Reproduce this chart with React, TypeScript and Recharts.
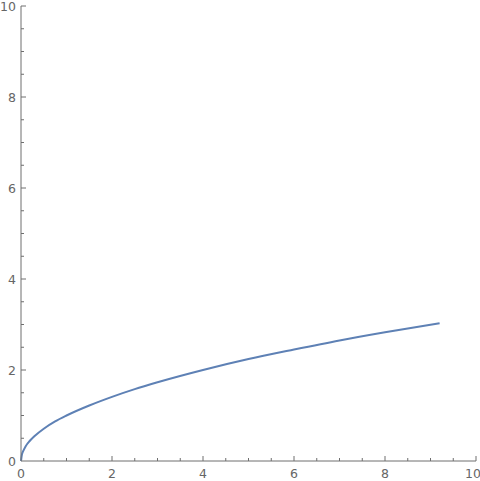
import { Line, LineChart, XAxis, YAxis } from "recharts";

// points (x, y)
const xValues = [0, 0.02, 0.05, 0.1, 0.2, 0.3, 0.5, 0.75, 1, 1.5, 2, 2.5, 3, 4, 5, 6, 7, 8, 9.2];
const yValues = [0, 0.14, 0.22, 0.32, 0.45, 0.55, 0.71, 0.87, 1, 1.22, 1.41, 1.58, 1.73, 2, 2.24, 2.45, 2.65, 2.83, 3.03];

const tickValues = [
	0, 0.5, 1, 1.5, 2, 2.5, 3, 3.5, 4, 4.5, 5, 5.5, 6, 6.5, 7, 7.5, 8, 8.5, 9, 9.5, 10,
];
const labeledTicks = [0, 2, 4, 6, 8, 10];

const data = xValues.map((x, i) => ({ x, y: yValues[i] }));

const axisColor = "#6e6e6e";
const textColor = "#666666";
const font = "'DejaVu Sans', sans-serif";

function XTick(props: any) {
	const { x, y, payload } = props;
	const v = payload.value;
	const major = labeledTicks.includes(v);
	return (
		<g>
			{v !== 0 && <line x1={x} y1={y} x2={x} y2={y - (major ? 5 : 3)} stroke={axisColor} />}
			{major && (
				<text
					x={v === 10 ? x - 3 : x}
					y={y + 17}
					textAnchor="middle"
					fill={textColor}
					fontSize={12.5}
					fontFamily={font}
				>
					{v}
				</text>
			)}
		</g>
	);
}

function YTick(props: any) {
	const { x, y, payload } = props;
	const v = payload.value;
	const major = labeledTicks.includes(v);
	return (
		<g>
			{v !== 0 && <line x1={x} y1={y} x2={x + (major ? 5 : 3)} y2={y} stroke={axisColor} />}
			{major && (
				<text x={x - 5} y={y + 4.5} textAnchor="end" fill={textColor} fontSize={12.5} fontFamily={font}>
					{v}
				</text>
			)}
		</g>
	);
}

export default function App() {
	return (
		<div style={{ position: "absolute", left: 0, top: 0 }}>
			<LineChart width={480} height={481} data={data} margin={{ top: 6, right: 4, bottom: 0, left: 0 }}>
				<XAxis
					type="number"
					dataKey="x"
					domain={[0, 10]}
					ticks={tickValues}
					interval={0}
					height={20}
					tickSize={0}
					tickMargin={0}
					tickLine={false}
					stroke={axisColor}
					tick={<XTick />}
				/>
				<YAxis
					type="number"
					domain={[0, 10]}
					ticks={tickValues}
					interval={0}
					width={21}
					tickSize={0}
					tickMargin={0}
					tickLine={false}
					stroke={axisColor}
					tick={<YTick />}
				/>
				<Line
					type="monotone"
					dataKey="y"
					stroke="#5e81b5"
					strokeWidth={2}
					dot={false}
					isAnimationActive={false}
				/>
			</LineChart>
		</div>
	);
}
